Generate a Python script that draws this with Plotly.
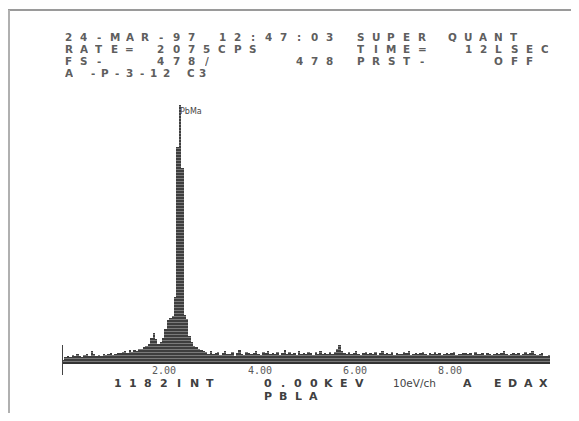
import plotly.graph_objects as go

# ---- data ----
BIN_KEV = 0.05
counts = [
    4, 9, 12, 10, 13, 11, 14, 12, 10, 13,
    15, 12, 21, 14, 11, 13, 12, 15, 13, 14,
    16, 13, 15, 17, 16, 18, 20, 17, 22, 19,
    23, 21, 25, 24, 27, 30, 33, 45, 54, 42,
    34, 38, 45, 62, 78, 82, 85, 120, 400, 478,
    360, 88, 80, 48, 38, 30, 27, 24, 22, 20,
    18, 15, 21, 14, 17, 19, 13, 16, 20, 15,
    14, 18, 12, 17, 22, 15, 13, 19, 16, 14,
    17, 21, 15, 13, 18, 16, 20, 14, 17, 15,
    19, 13, 16, 22, 15, 18, 14, 17, 13, 20,
    15, 17, 14, 19, 16, 13, 18, 15, 21, 14,
    16, 14, 18, 15, 19, 24, 32, 20, 17, 15,
    18, 14, 16, 21, 15, 13, 17, 19, 14, 16,
    15, 18, 13, 17, 20, 14, 16, 15, 19, 13,
    17, 15, 14, 18, 16, 21, 13, 15, 17, 14,
    16, 19, 14, 13, 17, 15, 18, 14, 16, 13,
    15, 17, 14, 16, 19, 13, 15, 14, 17, 16,
    14, 16, 13, 18, 15, 14, 17, 13, 16, 15,
    13, 15, 17, 14, 16, 20, 14, 13, 15, 17,
    14, 16, 13, 15, 18, 14, 16, 21, 15, 13,
    14, 16, 12, 11, 13,
]
energies = [(i + 0.5) * BIN_KEV for i in range(len(counts))]
full_scale = 478
x_max_kev = 10.24
tick_values = [2, 4, 6, 8]
tick_labels = ["2.00", "4.00", "6.00", "8.00"]
peak_label = "PbMa"
peak_kev = 2.475

header_lines = [
    "24-MAR-97 12:47:03 SUPER QUANT",
    "RATE= 2075CPS      TIME=  12LSEC",
    "FS-   478/     478 PRST-    OFF",
    "A -P-3-12 C3",
]
footer_groups = [("1182INT", 112, 383), ("0.00KEV", 262, 383),
                 ("A", 462, 383), ("EDAX", 492, 383), ("PBLA", 262, 396)]
unit_label = "10eV/ch"

# ---- geometry: page has an 8px body margin, so work in page pixels ----
OFF = 8
FW, FH = 579 - 2 * OFF, 421 - 2 * OFF
L, R, T, B = 54, 21, 97, 51
PW, PH = FW - L - R, FH - T - B


def fx(xr):
    return (xr - OFF - L) / PW


def fy(yr):
    return (FH - B - (yr - OFF)) / PH


fig = go.Figure()
fig.add_trace(go.Bar(
    x=energies, y=counts, width=BIN_KEV,
    marker=dict(color="#444444", line_width=0,
                pattern=dict(shape="-", size=3, solidity=0.3,
                             fgcolor="#c4c4c4", bgcolor="#3e3e3e")),
    hoverinfo="x+y", cliponaxis=False,
))

ann = []
hfont = dict(family="DejaVu Sans", size=10.4, color="#5e5e5e", weight="bold")
row_pitch = [15.37, 15.37, 15.37, 12.2]
for row, line in enumerate(header_lines):
    yr = 36.5 + row * 12.2
    p = row_pitch[row]
    for i, ch in enumerate(line):
        if ch == " ":
            continue
        ann.append(dict(x=fx(63 + i * p + 5.5), y=fy(yr), xref="paper", yref="paper",
                        text=ch, showarrow=False, xanchor="center", yanchor="middle",
                        height=10, borderpad=0, font=hfont))

ffont = dict(family="DejaVu Sans", size=11, color="#404040", weight="bold")
for text, x0, yr in footer_groups:
    p = 15.37
    for i, ch in enumerate(text):
        ann.append(dict(x=fx(x0 + i * p + 5.5), y=fy(yr), xref="paper", yref="paper",
                        text=ch, showarrow=False, xanchor="center", yanchor="middle",
                        height=10, borderpad=0, font=ffont))
ann.append(dict(x=fx(392), y=fy(383), xref="paper", yref="paper", text=unit_label,
                showarrow=False, xanchor="left", yanchor="middle", height=10, borderpad=0,
                font=dict(family="DejaVu Sans", size=10.5, color="#444")))

for v, t in zip(tick_values, tick_labels):
    ann.append(dict(x=v, y=fy(370), xref="x", yref="paper", text=t, xshift=7,
                    showarrow=False, xanchor="center", yanchor="middle", height=9,
                    borderpad=0,
                    font=dict(family="DejaVu Sans Mono", size=10, color="#5a5a5a")))

ann.append(dict(x=peak_kev, y=full_scale, xref="x", yref="y", text=peak_label,
                showarrow=False, xanchor="left", yanchor="top", xshift=-2,
                font=dict(family="DejaVu Sans", size=8, color="#444")))

shapes = [
    dict(type="line", xref="x", yref="paper", x0=0, x1=0, y0=fy(375), y1=fy(345),
         line=dict(color="#444", width=2)),
    dict(type="line", xref="paper", yref="paper", x0=fx(8), x1=fx(579), y0=fy(10), y1=fy(10),
         line=dict(color="#9a9a9a", width=2)),
    dict(type="line", xref="paper", yref="paper", x0=fx(9), x1=fx(9), y0=fy(10), y1=fy(421),
         line=dict(color="#b0b0b0", width=2)),
]

fig.update_layout(
    width=FW, height=FH, margin=dict(l=L, r=R, t=T, b=B, pad=0),
    paper_bgcolor="white", plot_bgcolor="white",
    showlegend=False, bargap=0,
    annotations=ann, shapes=shapes,
    xaxis=dict(range=[0, x_max_kev], showgrid=False, zeroline=False,
               showline=True, linecolor="#333", linewidth=2,
               showticklabels=False, ticks=""),
    yaxis=dict(range=[0, full_scale], showgrid=False, zeroline=False,
               showline=False, showticklabels=False, ticks=""),
)

fig.write_html("out.html")
